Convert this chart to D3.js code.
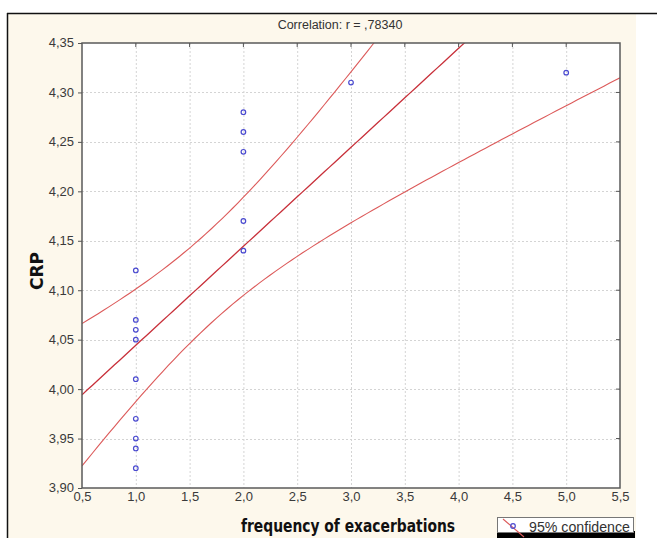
<!DOCTYPE html>
<html>
<head>
<meta charset="UTF-8" />
<title>Correlation CRP</title>
<script src="https://cdn.jsdelivr.net/npm/d3@7"></script>
<style>
  body { margin: 0; background: #fff; }
  text { font-family: "Liberation Sans", Arial, sans-serif; }
</style>
</head>
<body>
<svg id="vis" width="657" height="538"></svg>
<script>
// frequency of exacerbations (x) and CRP (y) for each case
var freq = [1, 1, 1, 1, 1, 1, 1, 1, 1, 2, 2, 2, 2, 2, 3, 5];
var crp  = [4.12, 4.07, 4.06, 4.05, 4.01, 3.97, 3.95, 3.94, 3.92,
            4.28, 4.26, 4.24, 4.17, 4.14, 4.31, 4.32];
var xTicks = [0.5, 1, 1.5, 2, 2.5, 3, 3.5, 4, 4.5, 5, 5.5];
var yTicks = [3.90, 3.95, 4.00, 4.05, 4.10, 4.15, 4.20, 4.25, 4.30, 4.35];
var titre = "Correlation: r = ,78340";

var svg = d3.select("#vis");
var fmt = function(d) { return d3.format(".2f")(d).replace(".", ","); };
var fmtX = function(d) { return d3.format(".1f")(d).replace(".", ","); };

// fond
svg.append("rect").attr("x", 7).attr("y", 13).attr("width", 629).attr("height", 525)
  .attr("fill", "#fdf8ec");
svg.append("line").attr("x1", 7).attr("x2", 657).attr("y1", 13.5).attr("y2", 13.5)
  .attr("stroke", "#111").attr("stroke-width", 1.5);
svg.append("line").attr("x1", 7.5).attr("x2", 7.5).attr("y1", 13).attr("y2", 538)
  .attr("stroke", "#111").attr("stroke-width", 1.5);

var L = 82, T = 43, W = 538, H = 445;
var x = d3.scaleLinear().domain([0.5, 5.5]).range([L, L + W]);
var y = d3.scaleLinear().domain([3.90, 4.35]).range([T + H, T]);

svg.append("rect").attr("x", L).attr("y", T).attr("width", W).attr("height", H)
  .attr("fill", "#fff");

// grille
var grid = svg.append("g").attr("stroke", "#d4d4d4").attr("stroke-dasharray", "2,2");
grid.selectAll(".gx").data(xTicks.slice(1, -1)).enter().append("line")
  .attr("x1", function(d) { return x(d) + 0.5; }).attr("x2", function(d) { return x(d) + 0.5; })
  .attr("y1", T).attr("y2", T + H);
grid.selectAll(".gy").data(yTicks.slice(1, -1)).enter().append("line")
  .attr("y1", function(d) { return Math.round(y(d)) + 0.5; }).attr("y2", function(d) { return Math.round(y(d)) + 0.5; })
  .attr("x1", L).attr("x2", L + W);

// regression et intervalle de confiance 95%
var n = freq.length;
var mx = d3.mean(freq), my = d3.mean(crp);
var sxx = d3.sum(freq, function(d) { return (d - mx) * (d - mx); });
var sxy = d3.sum(freq, function(d, i) { return (d - mx) * (crp[i] - my); });
var b = sxy / sxx, a = my - b * mx;
var sse = d3.sum(freq, function(d, i) { var r = crp[i] - a - b * d; return r * r; });
var s = Math.sqrt(sse / (n - 2));
var t = 2.145;
var xs = d3.range(0.5, 5.5001, 0.05);
function band(k) {
  return xs.map(function(v) {
    var se = s * Math.sqrt(1 / n + (v - mx) * (v - mx) / sxx);
    return [v, a + b * v + k * t * se];
  });
}
svg.append("clipPath").attr("id", "clip").append("rect")
  .attr("x", L).attr("y", T).attr("width", W).attr("height", H);
var line = d3.line().x(function(d) { return x(d[0]); }).y(function(d) { return y(d[1]); });
var gl = svg.append("g").attr("clip-path", "url(#clip)");
[-1, 0, 1].forEach(function(k) {
  gl.append("path").attr("d", line(band(k))).attr("fill", "none")
    .attr("stroke", k === 0 ? "#c8303a" : "#dc5a5a").attr("stroke-width", k === 0 ? 1.3 : 1.1);
});

// points
svg.append("g").selectAll("circle").data(freq).enter().append("circle")
  .attr("cx", function(d) { return x(d); })
  .attr("cy", function(d, i) { return y(crp[i]); })
  .attr("r", 2.3).attr("fill", "none").attr("stroke", "#4a4ad0").attr("stroke-width", 1.2);

// cadre
svg.append("rect").attr("x", L).attr("y", T).attr("width", W).attr("height", H)
  .attr("fill", "none").attr("stroke", "#5a5a5a").attr("stroke-width", 1.5);

// axes
var yAxis = d3.axisLeft(y).tickValues(yTicks).tickFormat(fmt).tickSize(4).tickPadding(4);
var gy = svg.append("g").attr("transform", "translate(" + L + ",0)").call(yAxis);
var xAxis = d3.axisBottom(x).tickValues(xTicks).tickFormat(fmtX).tickSize(0).tickPadding(4);
var gx = svg.append("g").attr("transform", "translate(0," + (T + H) + ")").call(xAxis);
[gx, gy].forEach(function(g) {
  g.select(".domain").remove();
  g.selectAll("line").attr("stroke", "#555");
  g.selectAll("text").attr("fill", "#3a3a3a").style("font-size", "13px")
    .style("font-family", "'Liberation Sans', Arial, sans-serif");
});
gy.selectAll("text").attr("dy", "0.3em");
// petits traits en haut et a droite
svg.append("g").selectAll("line").data(xTicks.slice(1, -1)).enter().append("line")
  .attr("x1", function(d) { return x(d); }).attr("x2", function(d) { return x(d); })
  .attr("y1", T).attr("y2", T + 4).attr("stroke", "#555");
svg.append("g").selectAll("line").data(yTicks.slice(1, -1)).enter().append("line")
  .attr("y1", function(d) { return y(d); }).attr("y2", function(d) { return y(d); })
  .attr("x1", L + W).attr("x2", L + W - 4).attr("stroke", "#555");

// titres
svg.append("text").attr("x", 340).attr("y", 29).attr("text-anchor", "middle")
  .attr("fill", "#333").style("font-size", "12.5px").text(titre);
svg.append("text").attr("x", 348).attr("y", 532).attr("text-anchor", "middle")
  .style("font-family", "'DejaVu Sans Condensed', 'DejaVu Sans', sans-serif")
  .style("font-weight", "bold").style("font-size", "18px")
  .attr("textLength", 214).attr("lengthAdjust", "spacingAndGlyphs")
  .attr("fill", "#111").text("frequency of exacerbations");
svg.append("text").attr("transform", "translate(43,271) rotate(-90)").attr("text-anchor", "middle")
  .style("font-family", "'DejaVu Sans Condensed', 'DejaVu Sans', sans-serif")
  .style("font-weight", "bold").style("font-size", "18px")
  .attr("textLength", 38).attr("lengthAdjust", "spacingAndGlyphs")
  .attr("fill", "#111").text("CRP");

// legende
var lg = svg.append("g");
lg.append("rect").attr("x", 497).attr("y", 531).attr("width", 138).attr("height", 7).attr("fill", "#000");
lg.append("rect").attr("x", 497.5).attr("y", 517.5).attr("width", 136).attr("height", 15)
  .attr("fill", "#fff").attr("stroke", "#777");
lg.append("line").attr("x1", 503).attr("y1", 519).attr("x2", 524).attr("y2", 537)
  .attr("stroke", "#dc5a5a").attr("stroke-width", 1.1);
lg.append("circle").attr("cx", 513).attr("cy", 526).attr("r", 2.3).attr("fill", "none")
  .attr("stroke", "#4a4ad0").attr("stroke-width", 1.2);
lg.append("text").attr("x", 529).attr("y", 532).attr("fill", "#333").style("font-size", "14px")
  .attr("textLength", 101).attr("lengthAdjust", "spacingAndGlyphs")
  .text("95% confidence");
</script>
</body>
</html>
